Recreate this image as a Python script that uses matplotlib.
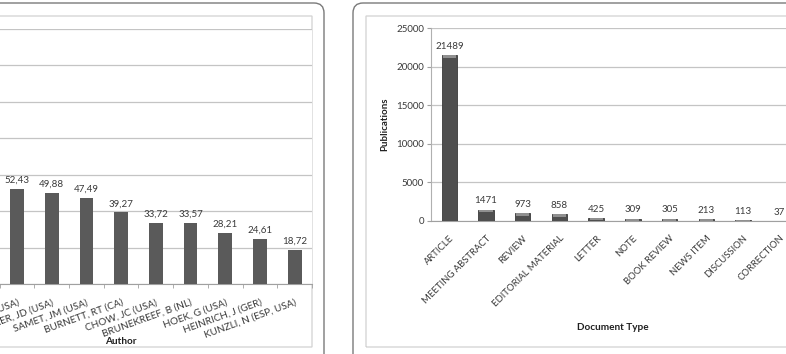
import numpy as np
import matplotlib
matplotlib.use("Agg")
import matplotlib.pyplot as plt
from matplotlib.patches import FancyBboxPatch
from matplotlib.transforms import IdentityTransform

plt.rcParams['font.family'] = ['Lato', 'DejaVu Sans']

# left panel (cut off at the left edge of the picture)
authors = ["DOCKERY, DW (USA)", "SPENGLER, JD (USA)", "SAMET, JM (USA)", "BURNETT, RT (CA)",
           "CHOW, JC (USA)", "BRUNEKREEF, B (NL)", "HOEK, G (USA)", "HEINRICH, J (GER)",
           "KUNZLI, N (ESP, USA)"]
author_values = [52.43, 49.88, 47.49, 39.27, 33.72, 33.57, 28.21, 24.61, 18.72]
author_labels = ["52,43", "49,88", "47,49", "39,27", "33,72", "33,57", "28,21", "24,61", "18,72"]

# right panel
doc_types = ["ARTICLE", "MEETING ABSTRACT", "REVIEW", "EDITORIAL MATERIAL", "LETTER", "NOTE",
             "BOOK REVIEW", "NEWS ITEM", "DISCUSSION", "CORRECTION"]
publications = [21489, 1471, 973, 858, 425, 309, 305, 213, 113, 37]

W, H = 786, 354
fig = plt.figure(figsize=(W / 100, H / 100), dpi=100)
fig.patch.set_facecolor('white')


def rect(x0, y0, x1, y1):
    # pixel box (top-left origin) -> figure coords
    return [x0 / W, 1 - y1 / H, (x1 - x0) / W, (y1 - y0) / H]


def box(x0, y0, x1, y1, color, lw, r):
    p = FancyBboxPatch((x0, H - y1), x1 - x0, y1 - y0,
                       boxstyle=f"round,pad=0,rounding_size={r}",
                       transform=IdentityTransform(), fill=False,
                       edgecolor=color, linewidth=lw, zorder=0)
    fig.add_artist(p)


# panel frames
box(-40, 3, 324, 400, '#7a7a7a', 1.0, 10)
box(-40, 16, 312, 347, '#d2d2d2', 0.9, 0)
box(353, 3, 830, 400, '#7a7a7a', 1.0, 10)
box(366, 16, 830, 347, '#d2d2d2', 0.9, 0)

txt = '#3a3a3a'
grid_c = '#c4c4c4'

# ---------- left panel ----------
n_hidden = 3
left_px = 312 - 34.7 * (len(authors) + n_hidden)
ax1 = fig.add_axes(rect(left_px, 29, 312, 284))
x1 = np.arange(len(authors))
ax1.bar(x1, author_values, width=0.4, color='#5a5a5a', zorder=3)
for xi, v, lab in zip(x1, author_values, author_labels):
    ax1.annotate(lab, (xi, v), xytext=(0, 3), textcoords='offset points',
                 ha='center', va='bottom', fontsize=7, color=txt)
ax1.set_xlim(-0.5 - n_hidden, len(authors) - 0.5)
ax1.set_ylim(0, 140)
ax1.set_yticks(np.arange(0, 141, 20))
ax1.yaxis.grid(True, color=grid_c, lw=0.9, zorder=0)
ax1.set_xticks(x1)
ax1.set_xticklabels(authors, rotation=20, ha='right', va='top',
                    rotation_mode='anchor', fontsize=7.2, color=txt)
ax1.set_xticks(np.arange(-0.5 - n_hidden, len(authors)), minor=True)
ax1.tick_params(axis='x', which='major', length=0, pad=10)
ax1.tick_params(axis='x', which='minor', length=3, color='#a0a0a0')
ax1.tick_params(axis='y', length=0, labelleft=False)
for s in ['top', 'right', 'left']:
    ax1.spines[s].set_visible(False)
ax1.spines['bottom'].set_color('#a0a0a0')
ax1.set_xlabel('Author', fontsize=7.2, fontweight='bold', color='#202020')
ax1.xaxis.set_label_coords((121 - left_px) / (312 - left_px), -(342 - 284) / 255)
ax1.xaxis.label.set_va('center')

# ---------- right panel ----------
ax2 = fig.add_axes(rect(431, 28, 431 + 36.7 * len(doc_types), 221))
x2 = np.arange(len(doc_types))
ax2.bar(x2, publications, width=0.42, color='#4f4f4f', edgecolor='#3a3a3a',
        linewidth=0.6, zorder=3)
cap = 330
for xi, v in zip(x2, publications):
    h = min(v, cap)
    ax2.bar(xi, h, bottom=v - h, width=0.36, color='#909090', linewidth=0, zorder=4)
    ax2.annotate(str(v), (xi, v), xytext=(0, 3), textcoords='offset points',
                 ha='center', va='bottom', fontsize=7, color=txt)
ax2.set_xlim(-0.5, len(doc_types) - 0.5)
ax2.set_ylim(0, 25000)
ax2.set_yticks(np.arange(0, 25001, 5000))
ax2.yaxis.grid(True, color=grid_c, lw=0.9, zorder=0)
ax2.set_xticks(x2)
ax2.set_xticklabels(doc_types, rotation=45, ha='right', va='top',
                    rotation_mode='anchor', fontsize=6.8, color=txt)
ax2.tick_params(axis='x', length=0, pad=9)
ax2.tick_params(axis='y', length=3, color='#a0a0a0', labelsize=7, labelcolor=txt, pad=2)
for s in ['top', 'right']:
    ax2.spines[s].set_visible(False)
ax2.spines['left'].set_color('#b0b0b0')
ax2.spines['bottom'].set_color('#a0a0a0')
ax2.set_ylabel('Publications', fontsize=7, fontweight='bold', color='#202020')
ax2.yaxis.set_label_coords((385 - 431) / (36.7 * 10), 0.5)
ax2.yaxis.label.set_va('center')
ax2.set_xlabel('Document Type', fontsize=7.2, fontweight='bold', color='#202020')
ax2.xaxis.set_label_coords((613 - 431) / (36.7 * 10), -(328 - 221) / 193)
ax2.xaxis.label.set_va('center')

fig.savefig('out.png', dpi=100, facecolor='white')
